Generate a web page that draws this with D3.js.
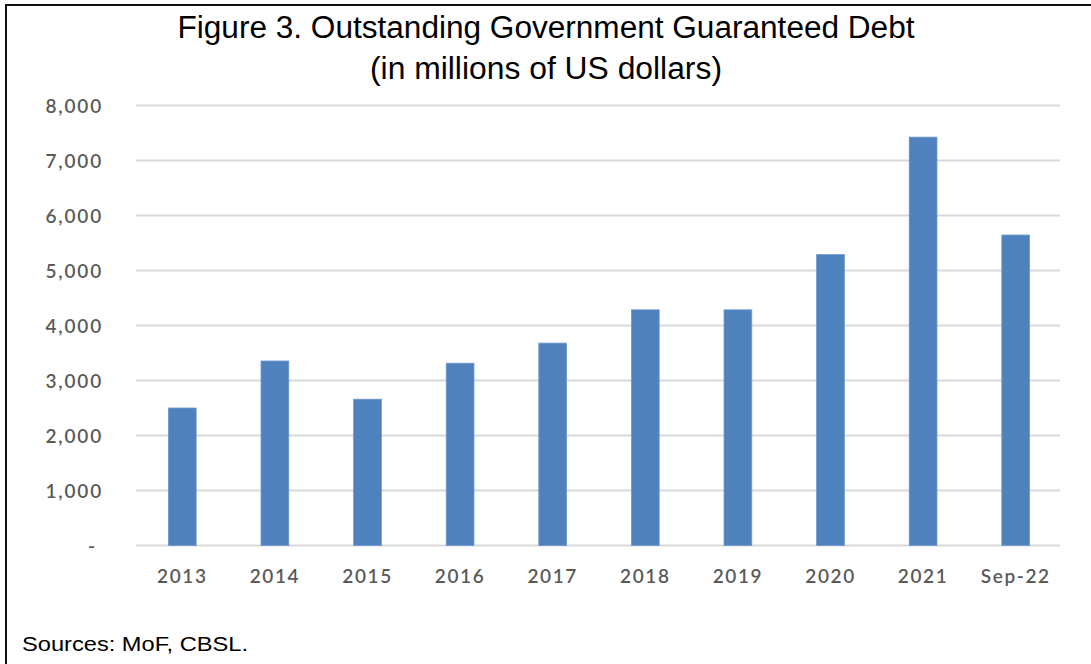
<!DOCTYPE html>
<html>
<head>
<meta charset="utf-8">
<script src="https://cdn.jsdelivr.net/npm/d3@7"></script>
<style>
  html, body { margin: 0; padding: 0; background: #fff; }
  svg { display: block; }
</style>
</head>
<body>
<svg id="chart" width="1091" height="664"></svg>
<script>
// Outstanding government guaranteed debt, millions of US dollars
const categories = ["2013", "2014", "2015", "2016", "2017", "2018", "2019", "2020", "2021", "Sep-22"];
const debtValues = [2500, 3355, 2660, 3315, 3680, 4285, 4285, 5290, 7425, 5645];
const yTicks = [0, 1000, 2000, 3000, 4000, 5000, 6000, 7000, 8000];
const titleLines = ["Figure 3. Outstanding Government Guaranteed Debt", "(in millions of US dollars)"];
const sourceNote = "Sources: MoF, CBSL.";

const svg = d3.select("#chart");
const W = 1091, H = 664;
const plot = { left: 136, right: 1062, top: 105.5, bottom: 545.5 };

// frame: top and left edges
svg.append("line").attr("x1", 5).attr("x2", W).attr("y1", 5).attr("y2", 5)
  .attr("stroke", "#111").attr("stroke-width", 2);
svg.append("line").attr("x1", 6).attr("x2", 6).attr("y1", 4).attr("y2", H)
  .attr("stroke", "#111").attr("stroke-width", 2);

// title, two centred lines stretched to their set widths
const titleWidths = [737, 352];
svg.append("g").selectAll("text").data(titleLines).join("text")
  .attr("x", 546).attr("y", (d, i) => 38 + i * 41)
  .attr("text-anchor", "middle")
  .attr("font-family", "'Liberation Sans', Arial, sans-serif")
  .attr("font-size", 31)
  .attr("fill", "#000")
  .attr("textLength", (d, i) => titleWidths[i])
  .attr("lengthAdjust", "spacingAndGlyphs")
  .text(d => d);

const x = d3.scaleBand().domain(categories).range([plot.left, plot.right]).paddingInner(0.7).paddingOuter(0.35);
const y = d3.scaleLinear().domain([0, 8000]).range([plot.bottom, plot.top]);

// gridlines
svg.append("g").selectAll("line").data(yTicks).join("line")
  .attr("x1", plot.left).attr("x2", 1060)
  .attr("y1", d => y(d)).attr("y2", d => y(d))
  .attr("stroke", "#d9d9d9").attr("stroke-width", 2);

// y axis labels
const yAxis = d3.axisLeft(y).tickValues(yTicks).tickSize(0).tickPadding(0)
  .tickFormat(d => d === 0 ? "-" : d3.format(",")(d));
const yg = svg.append("g").attr("transform", "translate(103,0)").call(yAxis);
yg.select(".domain").remove();
yg.selectAll("text")
  .attr("font-family", "Lato, 'Open Sans', sans-serif")
  .attr("font-size", 19).attr("font-weight", 600).attr("fill", "#5a5a5a")
  .attr("letter-spacing", 1.8).attr("dy", "0.35em");
yg.selectAll(".tick").filter(d => d === 0).select("text").attr("dx", -6);

// bars
svg.append("g").selectAll("rect").data(categories).join("rect")
  .attr("x", d => x(d))
  .attr("width", x.bandwidth())
  .attr("y", (d, i) => y(debtValues[i]))
  .attr("height", (d, i) => y(0) - y(debtValues[i]))
  .attr("fill", "#4f81bd")
  .attr("stroke", "#6f9ad0").attr("stroke-width", 0.8);

// x axis labels
const xAxis = d3.axisBottom(x).tickSize(0).tickPadding(0);
const xg = svg.append("g").attr("transform", `translate(0,${plot.bottom})`).call(xAxis);
xg.select(".domain").remove();
xg.selectAll("text")
  .attr("font-family", "Lato, 'Open Sans', sans-serif")
  .attr("font-size", 19).attr("font-weight", 600).attr("fill", "#5a5a5a")
  .attr("letter-spacing", 1.6).attr("dy", 0).attr("y", 37);

// source note
svg.append("text").attr("x", 22).attr("y", 651)
  .attr("font-family", "'Liberation Sans', Arial, sans-serif")
  .attr("font-size", 21).attr("fill", "#000")
  .attr("textLength", 226).attr("lengthAdjust", "spacingAndGlyphs")
  .text(sourceNote);
</script>
</body>
</html>
